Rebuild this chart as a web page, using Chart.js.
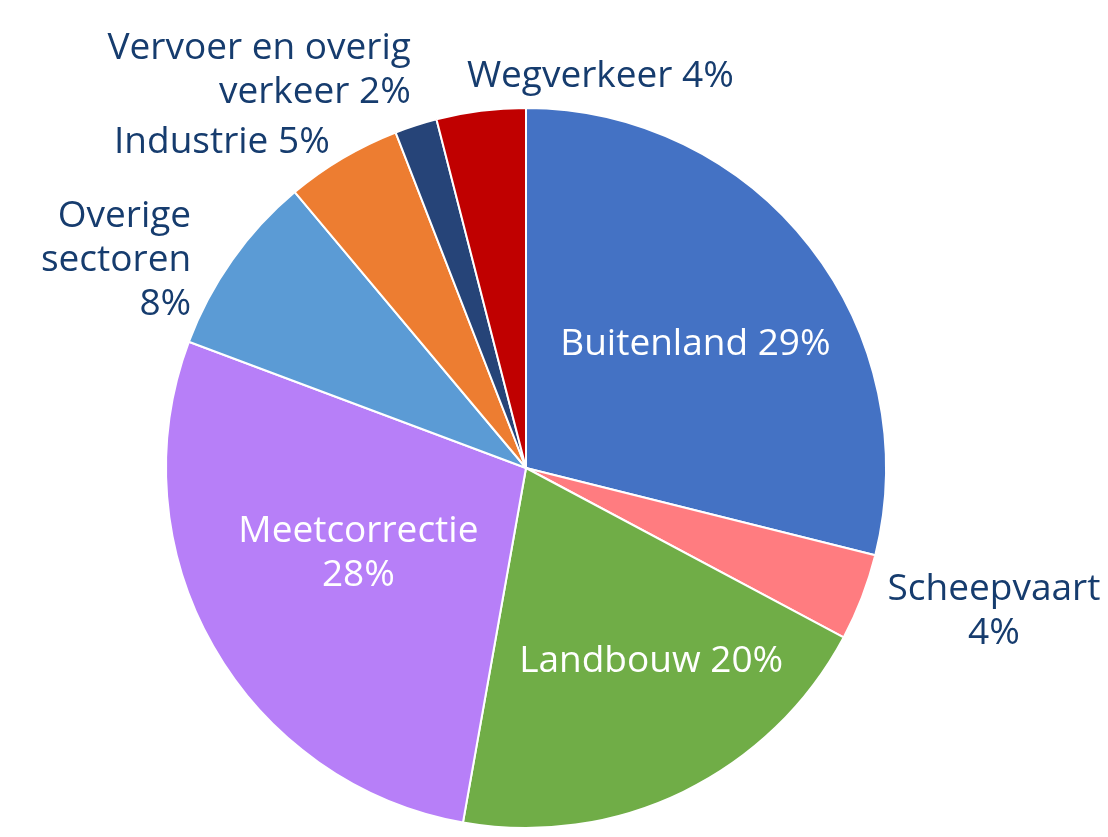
<!DOCTYPE html>
<html>
<head>
<meta charset="utf-8">
<script src="https://cdn.jsdelivr.net/npm/chart.js@4.4.0/dist/chart.umd.min.js"></script>
<style>
    html, body { margin: 0; padding: 0; background: #ffffff; }
    #wrap { width: 1108px; height: 837px; }
</style>
</head>
<body>
<div id="wrap"><canvas id="pieChart" width="1108" height="837"></canvas></div>
<script>
// aandelen per sector, met de klok mee vanaf 12 uur
var sectoren = ["Buitenland", "Scheepvaart", "Landbouw", "Meetcorrectie", "Overige sectoren", "Industrie", "Vervoer en overig verkeer", "Wegverkeer"];
var aandelen = [28.9, 3.9, 20.0, 27.9, 8.2, 5.2, 1.9, 4.0];
var labelTeksten = [
    ["Buitenland 29%"],
    ["Scheepvaart", "4%"],
    ["Landbouw 20%"],
    ["Meetcorrectie", "28%"],
    ["Overige", "sectoren", "8%"],
    ["Industrie 5%"],
    ["Vervoer en overig", "verkeer 2%"],
    ["Wegverkeer 4%"]
];
var kleuren = ["#4472C4", "#FF7C80", "#70AD47", "#B77FF8", "#5B9BD5", "#ED7D31", "#264478", "#C00000"];

// plaatsing van de labels: f = fractie van de straal op de middenhoek, dx/dy = verschuiving
var plaatsing = [
    { f: 0.59, dx: 2, dy: 7, align: 'center', color: '#ffffff' },
    { f: 1.0, dx: 132, dy: 14, align: 'center', color: '#163C6E' },
    { f: 0.63, dx: 26, dy: -11, align: 'center', color: '#ffffff' },
    { f: 0.52, dx: -5, dy: -7, align: 'center', color: '#ffffff' },
    { f: 1.0, dx: -41, dy: 0, align: 'right', color: '#163C6E' },
    { f: 1.0, dx: -13, dy: -16, align: 'right', color: '#163C6E' },
    { f: 1.0, dx: -5, dy: -55, align: 'right', color: '#163C6E' },
    { f: 1.0, dx: -14, dy: -34, align: 'left', color: '#163C6E' }
];

var labelPlugin = {
    id: 'sectorLabels',
    afterDatasetsDraw: function(chart) {
        var ctx = chart.ctx;
        var meta = chart.getDatasetMeta(0);
        ctx.save();
        ctx.font = '37px "Open Sans"';
        ctx.textBaseline = 'middle';
        var lineHeight = 44;
        meta.data.forEach(function(arc, i) {
            var p = plaatsing[i];
            var props = arc.getProps(['x', 'y', 'startAngle', 'endAngle', 'outerRadius']);
            var mid = (props.startAngle + props.endAngle) / 2;
            var r = props.outerRadius * p.f;
            var x = props.x + Math.cos(mid) * r + p.dx;
            var y = props.y + Math.sin(mid) * r + p.dy;
            var lines = labelTeksten[i];
            var top = y - (lines.length - 1) * lineHeight / 2;
            ctx.fillStyle = p.color;
            ctx.textAlign = p.align;
            lines.forEach(function(t, k) {
                ctx.fillText(t, x, top + k * lineHeight);
            });
        });
        ctx.restore();
    }
};

var pieCanvas = document.getElementById("pieChart");
var pieChart = new Chart(pieCanvas, {
    type: 'pie',
    data: {
        labels: sectoren,
        datasets: [{
            data: aandelen,
            backgroundColor: kleuren,
            borderColor: '#ffffff',
            borderWidth: 2
        }]
    },
    options: {
        responsive: false,
        animation: false,
        layout: {
            padding: { left: 165, right: 221, top: 107, bottom: 8 }
        },
        plugins: {
            legend: { display: false },
            tooltip: { enabled: false }
        }
    },
    plugins: [labelPlugin]
});
</script>
</body>
</html>
